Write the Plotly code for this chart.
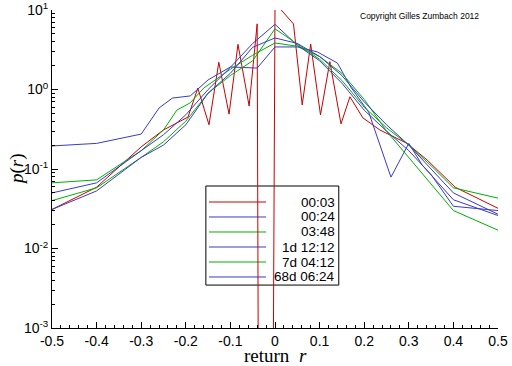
import plotly.graph_objects as go

# ---------------- data ----------------
labels = ["00:03", "00:24", "03:48", "1d 12:12", "7d 04:12", "68d 06:24"]
colors = ["#c80000", "#3a3ac8", "#00b000", "#3a3ac8", "#00b000", "#3a3ac8"]

# 00:03 (jagged, discrete-price effects); 1e-6 stands for an empty bin (off scale)
r_0003 = [-0.5, -0.4, -0.3, -0.25, -0.195, -0.173, -0.148, -0.126, -0.103, -0.083, -0.058,
          -0.040, -0.036, -0.006, 0.0, 0.0415, 0.061, 0.080, 0.102, 0.123, 0.148, 0.168,
          0.197, 0.235, 0.296, 0.341, 0.404, 0.5]
p_0003 = [0.031, 0.059, 0.19, 0.31, 0.45, 1.04, 0.36, 2.2, 0.49, 3.7, 0.62,
          6.7, 1e-6, 1e-6, 12.3, 6.67, 0.64, 3.73, 0.48, 2.24, 0.37, 0.81,
          0.44, 0.31, 0.21, 0.13, 0.059, 0.032]

r_0024 = [-0.5, -0.4, -0.3, -0.26, -0.23, -0.19, -0.15, -0.1, -0.04, 0.0, 0.05, 0.095,
          0.14, 0.17, 0.21, 0.26, 0.3, 0.33, 0.4, 0.5]
p_0024 = [0.195, 0.21, 0.275, 0.585, 0.78, 0.83, 1.32, 1.92, 1.86, 3.43, 3.43, 2.97,
          2.15, 1.07, 0.52, 0.079, 0.21, 0.112, 0.041, 0.026]

r_0348 = [-0.5, -0.4, -0.3, -0.25, -0.22, -0.19, -0.16, -0.1, -0.05, 0.0, 0.05, 0.1,
          0.15, 0.2, 0.25, 0.3, 0.35, 0.4, 0.5]
p_0348 = [0.067, 0.073, 0.17, 0.31, 0.55, 0.68, 1.04, 1.8, 2.7, 3.85, 3.5, 2.6,
          1.6, 0.75, 0.3, 0.14, 0.065, 0.03, 0.017]

r_1d = [-0.5, -0.4, -0.3, -0.25, -0.2, -0.15, -0.1, -0.05, 0.0, 0.05, 0.1, 0.15,
        0.2, 0.25, 0.3, 0.35, 0.4, 0.5]
p_1d = [0.05, 0.067, 0.17, 0.27, 0.48, 1.0, 1.9, 3.8, 6.6, 3.6, 2.3, 1.2,
        0.55, 0.3, 0.17, 0.085, 0.034, 0.03]

r_7d = [-0.5, -0.4, -0.3, -0.25, -0.2, -0.15, -0.1, -0.05, 0.0, 0.05, 0.1, 0.15,
        0.2, 0.25, 0.3, 0.35, 0.4, 0.5]
p_7d = [0.04, 0.058, 0.14, 0.22, 0.4, 0.9, 1.5, 2.3, 5.8, 3.7, 2.4, 1.3,
        0.6, 0.33, 0.2, 0.11, 0.058, 0.043]

r_68d = [-0.5, -0.4, -0.3, -0.25, -0.2, -0.15, -0.1, -0.05, 0.0, 0.05, 0.1, 0.15,
         0.2, 0.25, 0.3, 0.35, 0.4, 0.5]
p_68d = [0.031, 0.053, 0.14, 0.2, 0.36, 0.9, 1.6, 3.4, 4.45, 3.8, 2.6, 1.5,
         0.7, 0.36, 0.2, 0.1, 0.05, 0.027]

series = [(r_0003, p_0003), (r_0024, p_0024), (r_0348, p_0348),
          (r_1d, p_1d), (r_7d, p_7d), (r_68d, p_68d)]

x_ticks = [-0.5, -0.4, -0.3, -0.2, -0.1, 0, 0.1, 0.2, 0.3, 0.4, 0.5]
x_ticktext = ["-0.5", "-0.4", "-0.3", "-0.2", "-0.1", "0", "0.1", "0.2", "0.3", "0.4", "0.5"]
y_ticks = [1e-3, 1e-2, 1e-1, 1e0, 1e1]
y_ticktext = ["10<sup>-3</sup>", "10<sup>-2</sup>", "10<sup>-1</sup>", "10<sup>0</sup>", "10<sup>1</sup>"]

# ---------------- figure ----------------
fig = go.Figure()
for (rx, py), lab, col in zip(series, labels, colors):
    fig.add_trace(go.Scatter(x=rx, y=py, mode="lines", name=lab,
                             line=dict(color=col, width=1), showlegend=False))

minor_y = [m * 10 ** e for e in range(-3, 1) for m in range(2, 10)]

SANS = "Liberation Sans, Arial, sans-serif"
SERIF = "Liberation Serif, Times New Roman, serif"

fig.update_layout(
    width=512, height=366,
    margin=dict(l=52, r=14, t=10, b=38, autoexpand=False),
    paper_bgcolor="white", plot_bgcolor="white",
    font=dict(family=SANS, color="black", size=14),
    xaxis=dict(range=[-0.5, 0.5], tickmode="array", tickvals=x_ticks, ticktext=x_ticktext,
               automargin=False,
               showgrid=False, zeroline=False, showline=True, linecolor="black", linewidth=1,
               ticks="inside", ticklen=6, tickcolor="black",
               minor=dict(dtick=0.02, ticks="inside", ticklen=3, tickcolor="black", showgrid=False),
               tickfont=dict(size=14)),
    yaxis=dict(type="log", range=[-3, 1], tickmode="array", tickvals=y_ticks, ticktext=y_ticktext,
               automargin=False,
               showgrid=False, zeroline=False, showline=True, linecolor="black", linewidth=1,
               ticks="inside", ticklen=6, tickcolor="black",
               minor=dict(tickmode="array", tickvals=minor_y, ticks="inside", ticklen=3,
                          tickcolor="black", showgrid=False),
               tickfont=dict(size=14)),
)

# axis titles
fig.add_annotation(xref="paper", yref="paper", x=0.5, y=-0.085, text="return  <i>r</i>",
                   showarrow=False, xanchor="center", yanchor="middle",
                   font=dict(family=SERIF, size=19, color="black"))
fig.add_annotation(xref="paper", yref="paper", x=-0.0785, y=0.5, text="<i>p</i>(<i>r</i>)",
                   showarrow=False, xanchor="center", yanchor="middle", textangle=-90,
                   font=dict(family=SERIF, size=19, color="black"))

# legend drawn manually (underneath the curves, as in the reference)
lx0, lx1, ly0, ly1 = 0.345, 0.643, 0.135, 0.4465
fig.add_shape(type="rect", xref="paper", yref="paper", x0=lx0, x1=lx1, y0=ly0, y1=ly1,
              line=dict(color="black", width=1), fillcolor="white", layer="below")
row_y = [0.3962, 0.3491, 0.3019, 0.2547, 0.2075, 0.1604]
for yy, lab, col in zip(row_y, labels, colors):
    fig.add_shape(type="line", xref="paper", yref="paper", x0=0.352, x1=0.48, y0=yy, y1=yy,
                  line=dict(color=col, width=1), layer="below")
    fig.add_annotation(xref="paper", yref="paper", x=0.639, y=yy, text=lab, showarrow=False,
                       xanchor="right", yanchor="middle",
                       font=dict(family=SANS, size=13.5, color="black"))

fig.add_annotation(xref="paper", yref="paper", x=0.686, y=0.981, text="Copyright Gilles Zumbach 2012",
                   showarrow=False, xanchor="left", yanchor="middle",
                   font=dict(family=SANS, size=8.5, color="black"))

fig.write_html("out.html", config={"displayModeBar": False},
               post_script="document.body.style.margin='0';document.body.style.padding='0';")
